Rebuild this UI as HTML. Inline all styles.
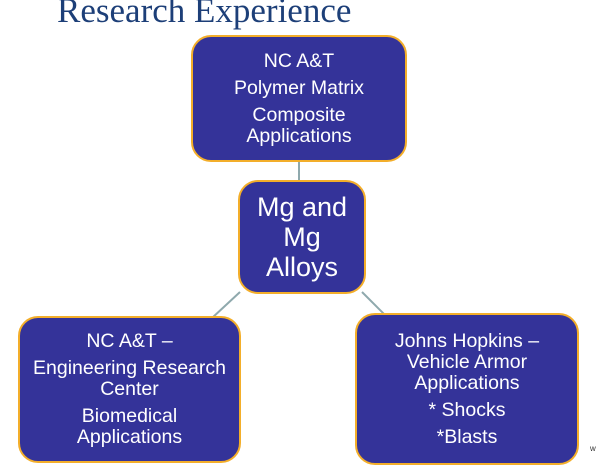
<!DOCTYPE html>
<html><head><style>
body{margin:0;width:600px;height:469px;background:#fff;position:relative;overflow:hidden;font-family:"Liberation Sans",sans-serif}
.t{position:absolute;left:57px;top:-9px;font-family:"Liberation Serif",serif;font-size:35px;color:#1d3f78;white-space:nowrap}
.b{position:absolute;box-sizing:border-box;background:#343399;border:2.5px solid #f3ae2a;border-radius:20px;color:#fff;text-align:center;display:flex;flex-direction:column;justify-content:center;align-items:center}
.b p{margin:0;line-height:21px}
.b p+p{margin-top:6px}
</style></head><body>
<div class="t">Research Experience</div>
<svg width="600" height="469" style="position:absolute;left:0;top:0">
<g stroke="#8fa9ad" stroke-width="2">
<line x1="299" y1="160" x2="299" y2="182"/>
<line x1="240" y1="292" x2="212" y2="318"/>
<line x1="362" y1="292" x2="386" y2="316"/>
</g></svg>
<div class="b" style="left:191px;top:35px;width:216px;height:127px;font-size:19.5px"><p>NC A&amp;T</p><p>Polymer Matrix</p><p>Composite<br>Applications</p></div>
<div class="b" style="left:238px;top:180px;width:128px;height:114px;font-size:27px"><p style="line-height:30px">Mg and<br>Mg<br>Alloys</p></div>
<div class="b" style="left:18px;top:316px;width:223px;height:147px;font-size:19.5px"><p>NC A&amp;T –</p><p>Engineering Research<br>Center</p><p>Biomedical<br>Applications</p></div>
<div class="b" style="left:355px;top:313px;width:224px;height:152px;font-size:19.5px"><p>Johns Hopkins –<br>Vehicle Armor<br>Applications</p><p>* Shocks</p><p>*Blasts</p></div>
<div style="position:absolute;left:590px;top:444px;font-size:8px;color:#333">w</div>
</body></html>
